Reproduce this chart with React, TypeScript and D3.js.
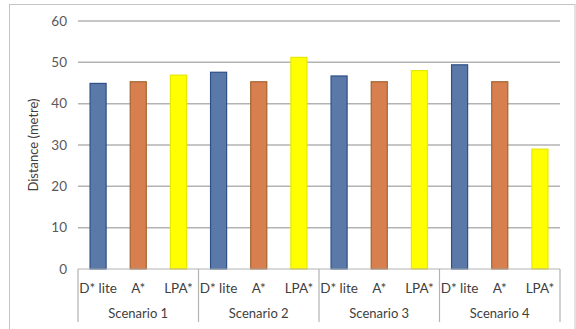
import React from "react";
import * as d3 from "d3";

const scenarios = ["Scenario 1", "Scenario 2", "Scenario 3", "Scenario 4"];
const algorithms = ["D* lite", "A*", "LPA*"];
const dstarLite = [44.9, 47.6, 46.7, 49.4];
const aStar = [45.3, 45.3, 45.3, 45.3];
const lpaStar = [46.9, 51.2, 48.0, 29.0];
const yTicks = [0, 10, 20, 30, 40, 50, 60];

const fills = ["#5b79a8", "#d87f4f", "#ffff00"];
const strokes = ["#2d5088", "#a3652f", "#e8e800"];

const W = 576;
const H = 329;
const FONT = "Lato, 'Liberation Sans', sans-serif";

export default function App() {
  const left = 78;
  const right = 560;
  const top = 21;
  const bottom = 269;

  const series = [dstarLite, aStar, lpaStar];
  const rows = scenarios.flatMap((s, si) =>
    algorithms.map((a, ai) => ({ key: `${si}-${ai}`, scenario: s, algo: a, ai, value: series[ai][si] }))
  );

  const x = d3.scaleBand<string>().domain(rows.map((r) => r.key)).range([left, right]).paddingInner(0.6).paddingOuter(0.3);
  const y = d3.scaleLinear().domain([0, 60]).range([bottom, top]);
  const groupW = (right - left) / scenarios.length;

  return (
    <svg width={W} height={H} style={{ position: "absolute", left: 0, top: 0 }}>
      <rect x={0} y={0} width={W} height={H} fill="#fff" />
      <rect x={9.5} y={4.5} width={565.5} height={340} fill="none" stroke="#c4c4c4" strokeWidth={1} />
      {yTicks.map((t) => (
        <g key={t}>
          {t > 0 && (
            <line x1={left} x2={right} y1={y(t)} y2={y(t)} stroke="#b3b3b3" strokeWidth={1.5} />
          )}
          <text x={67} y={y(t)} dy="0.35em" textAnchor="end" fontFamily={FONT} fontSize={13.5} fill="#595959">
            {t}
          </text>
        </g>
      ))}
      <text
        transform={`translate(38, 145) rotate(-90)`}
        textAnchor="middle"
        fontFamily={FONT}
        fontSize={13}
        fill="#404040"
      >
        Distance (metre)
      </text>
      {rows.map((r) => (
        <rect
          key={r.key}
          x={x(r.key)!}
          y={y(r.value)}
          width={x.bandwidth()}
          height={bottom - y(r.value)}
          fill={fills[r.ai]}
          stroke={strokes[r.ai]}
          strokeWidth={1.2}
        />
      ))}
      <line x1={left} x2={right} y1={bottom} y2={bottom} stroke="#b3b3b3" strokeWidth={1.2} />
      {d3.range(scenarios.length + 1).map((i) => (
        <line key={i} x1={left + i * groupW} x2={left + i * groupW} y1={bottom} y2={322} stroke="#b3b3b3" strokeWidth={1.2} />
      ))}
      {rows.map((r) => (
        <text
          key={"l" + r.key}
          x={x(r.key)! + x.bandwidth() / 2}
          y={293}
          textAnchor="middle"
          fontFamily={FONT}
          fontSize={13.5}
          fill="#404040"
        >
          {r.algo}
        </text>
      ))}
      {scenarios.map((s, i) => (
        <text key={s} x={left + (i + 0.5) * groupW} y={318} textAnchor="middle" fontFamily={FONT} fontSize={13} fill="#404040">
          {s}
        </text>
      ))}
    </svg>
  );
}
